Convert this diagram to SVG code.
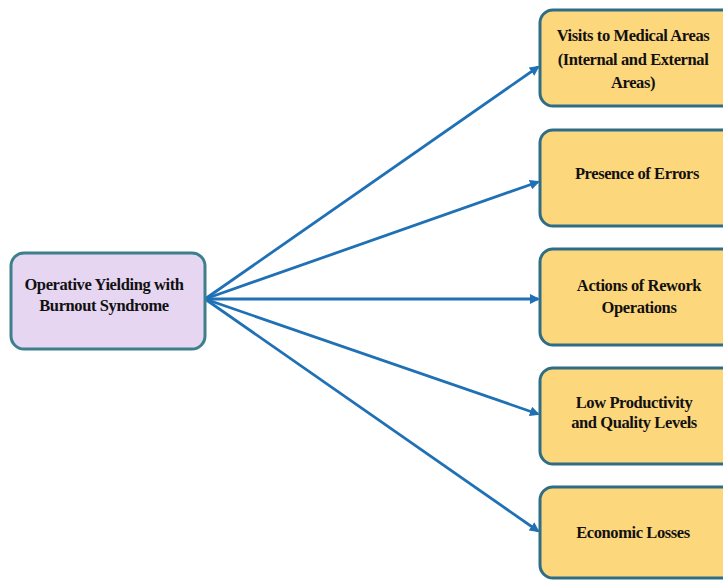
<svg xmlns="http://www.w3.org/2000/svg" width="723" height="580" viewBox="0 0 723 580">
<style>
.src{fill:#e6d6f2;stroke:#3d7f8c;stroke-width:3}
.tgt{fill:#fdd77c;stroke:#2f6c86;stroke-width:3}
.lbl{font-family:"Liberation Serif","Times New Roman",serif;font-weight:bold;font-size:16.5px;fill:#111;text-anchor:middle;dominant-baseline:central;letter-spacing:-0.4px}
.conn{stroke:#1f70b5;stroke-width:2.8;fill:none;marker-end:url(#ah)}
</style>
<defs>
<marker id="ah" markerWidth="10" markerHeight="10" refX="8" refY="5" orient="auto" markerUnits="userSpaceOnUse">
<path d="M0,0 L10,5 L0,10 z" fill="#1f70b5"/>
</marker>
</defs>
<rect width="723" height="580" fill="#ffffff"/>
<g id="connectors">
<line class="conn" x1="205" y1="299" x2="538" y2="67"/>
<line class="conn" x1="205" y1="299" x2="538" y2="182"/>
<line class="conn" x1="205" y1="299" x2="538" y2="299"/>
<line class="conn" x1="205" y1="299" x2="538" y2="414"/>
<line class="conn" x1="205" y1="299" x2="538" y2="531"/>
</g>
<g id="n0">
<rect class="src" x="11" y="253" width="194" height="96" rx="13"/>
<text class="lbl" x="104" y="284">Operative Yielding with</text>
<text class="lbl" x="104" y="305">Burnout Syndrome</text>
</g>
<g id="n1">
<rect class="tgt" x="540" y="10" width="200" height="96" rx="13"/>
<text class="lbl" x="633" y="35">Visits to Medical Areas</text>
<text class="lbl" x="633" y="59">(Internal and External</text>
<text class="lbl" x="633" y="82">Areas)</text>
</g>
<g id="n2">
<rect class="tgt" x="540" y="130" width="200" height="96" rx="13"/>
<text class="lbl" x="637" y="173">Presence of Errors</text>
</g>
<g id="n3">
<rect class="tgt" x="540" y="249" width="200" height="96" rx="13"/>
<text class="lbl" x="639" y="285">Actions of Rework</text>
<text class="lbl" x="639" y="307">Operations</text>
</g>
<g id="n4">
<rect class="tgt" x="540" y="368" width="200" height="96" rx="13"/>
<text class="lbl" x="634" y="402">Low Productivity</text>
<text class="lbl" x="634" y="422">and Quality Levels</text>
</g>
<g id="n5">
<rect class="tgt" x="540" y="487" width="200" height="91" rx="13"/>
<text class="lbl" x="633" y="532">Economic Losses</text>
</g>
</svg>
